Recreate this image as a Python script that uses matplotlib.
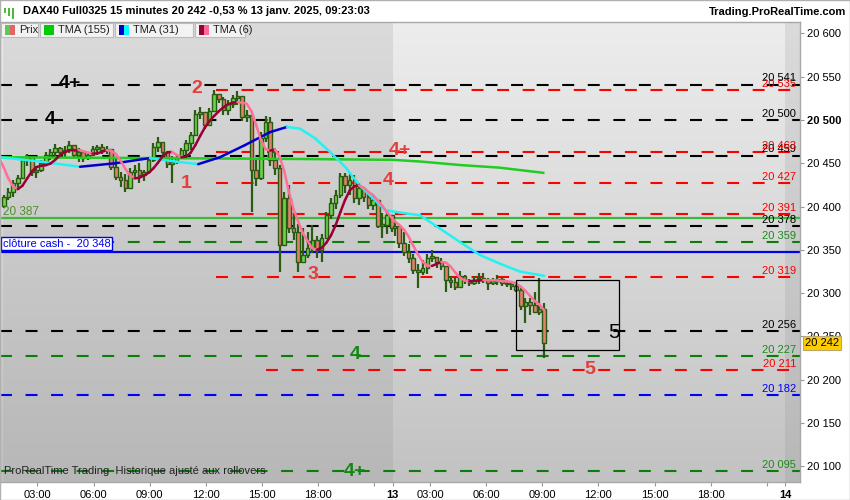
import numpy as np
import pandas as pd
import matplotlib
matplotlib.use("Agg")
import matplotlib.pyplot as plt
from matplotlib.patches import Rectangle
from matplotlib.collections import LineCollection
import matplotlib.transforms as mtransforms

plt.rcParams['font.family'] = ['Liberation Sans', 'DejaVu Sans']
plt.rcParams['lines.scale_dashes'] = False

# ---------------- data ----------------
# 15 minute candles, session of the 12th (left) and of the 13th (right)
open_first = 20401
close_12 = [20411, 20417, 20427, 20433, 20454, 20457, 20440, 20442, 20450, 20460,
            20463, 20468, 20463, 20465, 20471, 20460, 20463, 20456, 20460, 20467,
            20469, 20465, 20467, 20446, 20434, 20431, 20421, 20440, 20442, 20436,
            20440, 20454, 20469, 20475, 20463, 20449, 20452, 20457, 20465, 20473,
            20483, 20507, 20509, 20494, 20510, 20530, 20524, 20512, 20519, 20525,
            20528, 20504, 20506, 20442, 20433, 20479, 20498, 20454, 20445, 20356,
            20410, 20375, 20371, 20336, 20344, 20352, 20361, 20350, 20364, 20390,
            20404, 20413, 20435, 20425, 20431, 20410, 20421, 20411, 20402, 20408,
            20378, 20379, 20390, 20375]
high_12 = [20413, 20421, 20431, 20437, 20456, 20461, 20450, 20447, 20454, 20463,
           20467, 20472, 20469, 20470, 20476, 20469, 20468, 20463, 20463, 20470,
           20471, 20472, 20470, 20463, 20457, 20440, 20438, 20445, 20448, 20450,
           20442, 20457, 20473, 20480, 20472, 20463, 20458, 20461, 20468, 20477,
           20486, 20512, 20515, 20508, 20514, 20535, 20530, 20527, 20523, 20529,
           20534, 20527, 20512, 20502, 20454, 20486, 20505, 20504, 20465, 20448,
           20417, 20425, 20390, 20380, 20375, 20371, 20379, 20366, 20368, 20394,
           20410, 20419, 20439, 20439, 20439, 20437, 20427, 20419, 20416, 20413,
           20396, 20393, 20394, 20387]
low_12 = [20398, 20408, 20411, 20419, 20437, 20447, 20435, 20433, 20440, 20450,
          20454, 20457, 20458, 20457, 20462, 20456, 20452, 20452, 20454, 20458,
          20460, 20461, 20461, 20442, 20431, 20423, 20417, 20427, 20433, 20427,
          20430, 20440, 20451, 20463, 20456, 20445, 20427, 20449, 20456, 20460,
          20465, 20482, 20501, 20490, 20495, 20510, 20520, 20506, 20506, 20514,
          20517, 20499, 20498, 20394, 20424, 20431, 20475, 20447, 20437, 20324,
          20356, 20370, 20361, 20324, 20336, 20341, 20346, 20341, 20336, 20365,
          20386, 20397, 20410, 20416, 20413, 20404, 20402, 20405, 20397, 20396,
          20375, 20364, 20368, 20371]
close_13 = [20378, 20358, 20348, 20341, 20327, 20324, 20329, 20341, 20342, 20336,
            20331, 20315, 20313, 20307, 20320, 20315, 20312, 20315, 20318, 20315,
            20312, 20314, 20316, 20312, 20311, 20308, 20304, 20285, 20290, 20286,
            20278, 20282, 20242]
high_13 = [20382, 20373, 20371, 20357, 20345, 20334, 20338, 20345, 20350, 20341,
           20341, 20324, 20320, 20319, 20326, 20321, 20316, 20320, 20323, 20323,
           20318, 20318, 20321, 20318, 20315, 20314, 20313, 20306, 20294, 20294,
           20301, 20318, 20289]
low_13 = [20366, 20352, 20343, 20335, 20322, 20306, 20321, 20322, 20336, 20329,
          20327, 20301, 20306, 20304, 20312, 20311, 20308, 20309, 20311, 20312,
          20304, 20309, 20309, 20308, 20307, 20304, 20301, 20281, 20266, 20275,
          20278, 20275, 20225]
# closes of the bars just left of the view (only feed the TMA(6))
hist_close = [20470, 20468, 20466, 20460, 20440, 20415]

# TMA(31) and TMA(155) (trading hours, price)
tma31_t = [0, 2.14, 4.28, 6.15, 8.02, 9.36, 10.6, 11.76, 13.1, 14.44, 15.35, 16.04,
           16.84, 17.65, 18.45, 19.25, 20.6, 21.4, 22.46, 23.5, 24.6, 25.67, 26.74,
           27.8, 29.1]
tma31_v = [20457, 20452, 20446, 20450, 20456, 20452, 20449, 20457, 20471, 20486, 20492,
           20490, 20479, 20463, 20446, 20424, 20396, 20393, 20390, 20375, 20359, 20344,
           20334, 20325, 20320]
tma155_t = [0, 8, 16, 21, 22.5, 24.6, 26.7, 29.05]
tma155_v = [20457, 20456, 20455, 20454, 20452, 20448, 20445, 20439]

black_levels = [20541, 20500, 20459, 20378, 20256]
red_levels = [20535, 20463, 20427, 20391, 20319, 20211]
green_levels = [20359, 20227, 20095]
blue_levels = [20182]
support_line = 20387
cash_close = 20348
last_price = 20242

x_ticks = [2, 5, 8, 11, 14, 17, 20, 21, 23, 26, 29, 32, 35, 38, 41, 42]
x_labels = ['03:00', '06:00', '09:00', '12:00', '15:00', '18:00', '', '13',
            '03:00', '06:00', '09:00', '12:00', '15:00', '18:00', '', '14']

# ---------------- figure ----------------
PX = 18.7  # pixels per trading hour
YMIN, YMAX = 20081.9, 20613.2
fig = plt.figure(figsize=(8.5, 5), dpi=100)
fig.patch.set_facecolor('white')
ax = fig.add_axes([0, 18 / 500, 800 / 850, 460 / 500])
ax.set_xlim(0, 800 / PX)
ax.set_ylim(YMIN, YMAX)

# background: vertical gradient, alternate sessions a bit darker
W, H = 800, 460
cols = (np.arange(W) + 0.5) / PX
light = ((cols >= 21) & (cols < 42)) | (cols < 0.17)
top = np.where(light, 237, 219)
bot = np.where(light, 194, 183)
frac = np.linspace(0, 1, H)[:, None]
g = (top[None, :] * (1 - frac) + bot[None, :] * frac) / 255
ax.imshow(np.dstack([g, g, g]), extent=[0, W / PX, YMIN, YMAX], aspect='auto',
          origin='upper', zorder=0, interpolation='bilinear')

# horizontal levels
DASH = (0, (8.6, 9.8))
XMAX = 800 / PX
for v in black_levels:
    ax.plot([0, XMAX], [v, v], color='black', lw=1.5, ls=DASH, zorder=2)
for v in red_levels:
    x0 = 14.2 if v == 20211 else 11.55
    ax.plot([x0, XMAX], [v, v], color='#ff0000', lw=1.5, ls=DASH, zorder=2)
for v in green_levels:
    ax.plot([0, XMAX], [v, v], color='#0a7d0a', lw=1.5, ls=DASH, zorder=2)
for v in blue_levels:
    ax.plot([0, XMAX], [v, v], color='#0000ff', lw=1.5, ls=DASH, zorder=2)
ax.axhline(support_line, color='#3cb93c', lw=1.6, zorder=2)
ax.axhline(cash_close, color='#0000ee', lw=1.6, zorder=2)

# level labels on the right
lab_x = 796 / PX
for vals, col in [(black_levels, 'black'), (red_levels, '#ff0000'),
                  (green_levels, '#1d8a1d'), (blue_levels, '#0000ff')]:
    for v in vals:
        ax.text(lab_x, v + 3.5, f"{v:,}".replace(',', ' '), color=col, fontsize=8,
                ha='right', va='baseline', zorder=6)

# candles
t12 = 0.2 + 0.25 * np.arange(len(close_12))
t13 = 21.1 + 0.25 * np.arange(len(close_13))
t = np.concatenate([t12, t13])
close = np.array(close_12 + close_13, dtype=float)
high = np.array(high_12 + high_13, dtype=float)
low = np.array(low_12 + low_13, dtype=float)
opn = np.concatenate([[open_first], close[:-1]])
high = np.maximum(high, np.maximum(opn, close))
low = np.minimum(low, np.minimum(opn, close))
up = close >= opn
WICK = '#2b5a12'
ax.vlines(t, low, high, color=WICK, lw=1.6, zorder=3)
h = close - opn
h = np.where(np.abs(h) < 1.5, np.where(up, 1.5, -1.5), h)
ax.bar(t, h, bottom=opn, width=0.19, color=np.where(up, '#6ad64a', '#e2806c'),
       edgecolor=WICK, linewidth=1.0, zorder=4)


def slope_line(xs, ys, c_up, c_down, lw=1.8, z=5):
    xs, ys = np.asarray(xs, float), np.asarray(ys, float)
    segs = np.stack([np.column_stack([xs[:-1], ys[:-1]]),
                     np.column_stack([xs[1:], ys[1:]])], axis=1)
    cols = [c_up if b >= a else c_down for a, b in zip(ys[:-1], ys[1:])]
    ax.add_collection(LineCollection(segs, colors=cols, linewidths=lw, zorder=z,
                                     capstyle='round', joinstyle='round'))


# moving averages
ax.plot(tma155_t, tma155_v, color='#22cc22', lw=1.8, zorder=5)
slope_line(tma31_t, tma31_v, '#0000cc', '#22f2f2')
s = pd.Series(hist_close + list(close))
tma6 = s.rolling(3).mean().rolling(4).mean().to_numpy()[len(hist_close) - 1:]
t6 = np.concatenate([[t[0] - 0.25], t])
slope_line(t6, tma6, '#990033', '#ff6f9a')

# box around the last move
ax.add_patch(Rectangle((27.59, 20234), 33.1 - 27.59, 20315 - 20234, fill=False,
                       ec='black', lw=0.9, zorder=6))

# wave labels
RED = '#e63c3c'
for txt, x, y, col in [('4+', 3.74, 20542.7, 'black'), ('4', 2.67, 20501, 'black'),
                       ('2', 10.53, 20536, RED), ('1', 9.95, 20427, RED),
                       ('3', 16.74, 20321, RED), ('4+', 21.39, 20465, RED),
                       ('4', 20.75, 20430, RED), ('4', 18.98, 20228.6, '#118811'),
                       ('4+', 18.98, 20094.6, '#118811'), ('5', 31.55, 20212, RED)]:
    ax.text(x, y, txt, color=col, fontsize=14, fontweight='bold', ha='center',
            va='center', zorder=7)
ax.text(32.83, 20255, '5', color='black', fontsize=15, ha='center', va='center', zorder=7)

ax.text(0.17, support_line + 3.5, '20 387', color='#4d8f2a', fontsize=8.5,
        va='baseline', zorder=7)
ax.text(0.16, cash_close + 3.4, 'clôture cash -  20 348', color='#0000ee', fontsize=8,
        va='bottom', zorder=7,
        bbox=dict(boxstyle='square,pad=0.15', fc='white', ec='#0000ee', lw=1))
ax.text(0.005, 0.012, 'ProRealTime Trading  Historique ajusté aux rollovers',
        transform=ax.transAxes, fontsize=8, color='#222222', va='bottom', zorder=7)

# axes
ax.yaxis.tick_right()
yt = np.arange(20100, 20601, 50)
ax.set_yticks(yt)
ax.set_yticklabels([f"{v:,}".replace(',', ' ') for v in yt])
for lab, v in zip(ax.get_yticklabels(), yt):
    if v == 20500:
        lab.set_fontweight('bold')
ax.set_xticks(x_ticks)
ax.set_xticklabels(x_labels)
for lab in ax.get_xticklabels():
    if lab.get_text() in ('13', '14'):
        lab.set_fontweight('bold')
ax.tick_params(axis='both', direction='out', length=3, color='#999999',
               labelsize=8, labelcolor='black', pad=2)
ax.tick_params(axis='x', pad=3)
for sp in ax.spines.values():
    sp.set_color('#a8a8a8')
    sp.set_linewidth(1)

trans = mtransforms.blended_transform_factory(ax.transAxes, ax.transData)
ax.text(1.006, last_price, f"{last_price:,}".replace(',', ' '), transform=trans,
        fontsize=8, ha='left', va='center', clip_on=False, zorder=10,
        bbox=dict(boxstyle='square,pad=0.18', fc='#ffcc00', ec='#b8a870', lw=0.8))

# header and legend bar
fig.text(23 / 850, 1 - 11 / 500, 'DAX40 Full0325 15 minutes 20 242 -0,53 % 13 janv. 2025, 09:23:03',
         fontsize=8, fontweight='bold', va='center')
fig.text(846 / 850, 1 - 12 / 500, 'Trading.ProRealTime.com', fontsize=8,
         fontweight='bold', ha='right', va='center')
for x0, hh in [(4, 5), (8, 8), (12, 11)]:
    fig.add_artist(Rectangle((x0 / 850, 1 - (8 + hh) / 500), 2 / 850, hh / 500,
                             transform=fig.transFigure, fc='#4fb83a', ec='none'))


def fig_rect(x0, y0, w, h, **kw):
    fig.add_artist(Rectangle((x0 / 850, 1 - (y0 + h) / 500), w / 850, h / 500,
                             transform=fig.transFigure, **kw))


for x0, x1, name, c1, c2 in [(1, 38, 'Prix', '#5cc85c', '#e06666'),
                             (40, 113, 'TMA (155)', '#00cc00', '#00cc00'),
                             (115, 193, 'TMA (31)', '#0000cc', '#00ffff'),
                             (195, 245, 'TMA (6)', '#990033', '#ff6699')]:
    fig_rect(x0, 23, x1 - x0, 14, fc='#f3f3f3', ec='#bcbcbc', lw=0.8)
    fig_rect(x0 + 4, 25.5, 5, 9, fc=c1, ec='none')
    fig_rect(x0 + 9, 25.5, 5, 9, fc=c2, ec='none')
    fig.text((x0 + 18) / 850, 1 - 30 / 500, name, fontsize=8, color='#222222',
             va='center')

fig_rect(0, 0, 850, 500, fill=False, ec='#b0b0b0', lw=1)

fig.savefig('out.png', dpi=100)
